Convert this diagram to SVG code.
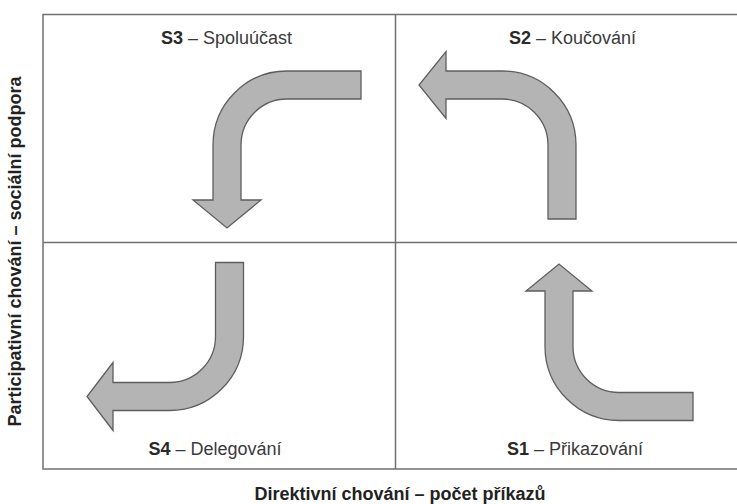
<svg xmlns="http://www.w3.org/2000/svg" width="737" height="504" viewBox="0 0 737 504">
<style>
.frame{stroke:#707070;stroke-width:1.5;fill:none}
.arrow{fill:#b4b4b4;stroke:#5e5e5e;stroke-width:1.3;stroke-linejoin:miter}
.q{font-family:"Liberation Sans",Arial,sans-serif;font-size:18px;fill:#3a3a3a;text-anchor:middle}
.q tspan.b{font-weight:bold;fill:#2a2a2a}
.ax{font-family:"Liberation Sans",Arial,sans-serif;font-size:18px;font-weight:bold;fill:#222;text-anchor:middle}
</style>
<rect width="737" height="504" fill="#fff"/>
<g id="grid">
<path class="frame" d="M737,14.5 H43 V469 H737"/>
<path class="frame" d="M395.5,14.5 V469"/>
<path class="frame" d="M43,242.5 H737"/>
</g>
<g id="connectors">
<path id="arrow-s3" class="arrow" d="M361,71 L287,71 A74,74 0 0 0 213,145 L213,200 L193,200 L227,228 L261,200 L241,200 L241,145 A46,46 0 0 1 287,99 L361,99 Z"/>
<path id="arrow-s2" class="arrow" d="M548,219 L548,145 A46,46 0 0 0 502,99 L446,99 L446,118.5 L419,85 L446,51.5 L446,71 L502,71 A74,74 0 0 1 576,145 L576,219 Z"/>
<path id="arrow-s4" class="arrow" d="M215.5,262.5 L243.5,262.5 L243.5,336.5 A74,74 0 0 1 169.5,410.5 L113,410.5 L113,430.5 L87,396.5 L113,362.5 L113,382.5 L169.5,382.5 A46,46 0 0 0 215.5,336.5 Z"/>
<path id="arrow-s1" class="arrow" d="M693,392.5 L619,392.5 A46,46 0 0 1 573,346.5 L573,291 L592,291 L559,264 L526,291 L545,291 L545,346.5 A74,74 0 0 0 619,420.5 L693,420.5 Z"/>
</g>
<g id="node-s3"><text class="q" x="226.5" y="44"><tspan class="b">S3</tspan> – Spoluúčast</text></g>
<g id="node-s2"><text class="q" x="572.5" y="44"><tspan class="b">S2</tspan> – Koučování</text></g>
<g id="node-s4"><text class="q" x="215" y="455"><tspan class="b">S4</tspan> – Delegování</text></g>
<g id="node-s1"><text class="q" x="575" y="455"><tspan class="b">S1</tspan> – Přikazování</text></g>
<g id="axis-x"><text class="ax" x="400" y="500">Direktivní chování – počet příkazů</text></g>
<g id="axis-y"><text class="ax" transform="translate(21,251.5) rotate(-90)">Participativní chování – sociální podpora</text></g>
</svg>
